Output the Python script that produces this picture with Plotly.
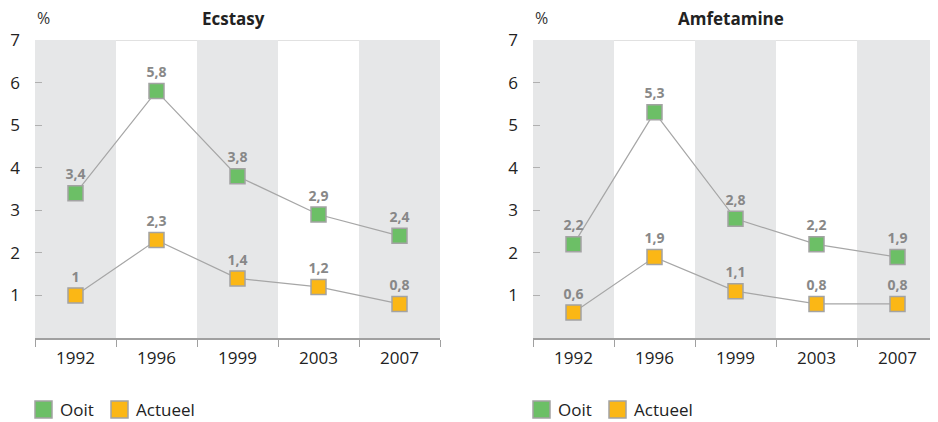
import plotly.graph_objects as go

years = ["1992", "1996", "1999", "2003", "2007"]
ecstasy_ooit = [3.4, 5.8, 3.8, 2.9, 2.4]
ecstasy_actueel = [1.0, 2.3, 1.4, 1.2, 0.8]
amfet_ooit = [2.2, 5.3, 2.8, 2.2, 1.9]
amfet_actueel = [0.6, 1.9, 1.1, 0.8, 0.8]
titles = ["Ecstasy", "Amfetamine"]
series_names = ["Ooit", "Actueel"]
y_ticks = [1, 2, 3, 4, 5, 6, 7]

GREEN = "#6cbf66"
ORANGE = "#fbb715"
BORDER = "#a3a3a3"
LINE = "#a6a6a6"
BAND = "#e6e7e8"
LABEL = "#888888"
FONT = "Open Sans"

def fmt(v):
    return ("%g" % v).replace(".", ",")

# page has an 8px body margin; size the figure to fit the 938x422 window
OFF = 8
W, H = 938 - OFF, 422 - OFF
T, B = 40 - OFF, 84
PH = H - T - B
domains = [[(35 - OFF) / W, (440 - OFF) / W], [(533 - OFF) / W, (938 - OFF) / W]]
top_text_y = (H - (18 - OFF) - B) / PH

def py(page_y):
    return (H - B - (page_y - OFF)) / PH

def px(page_x):
    return (page_x - OFF) / W

fig = go.Figure()
panels = [(ecstasy_ooit, ecstasy_actueel), (amfet_ooit, amfet_actueel)]
for p, (ooit, act) in enumerate(panels):
    xa = "x" if p == 0 else "x2"
    ya = "y" if p == 0 else "y2"
    for vals, col, nm in [(ooit, GREEN, series_names[0]), (act, ORANGE, series_names[1])]:
        fig.add_trace(go.Scatter(
            x=years, y=vals, mode="lines+markers+text", name=nm,
            text=[fmt(v) for v in vals], textposition="top center",
            textfont=dict(family=FONT, size=14, color=LABEL, weight="bold"),
            line=dict(color=LINE, width=1.2),
            marker=dict(symbol="square", size=15, color=col, line=dict(color=BORDER, width=1.5)),
            xaxis=xa, yaxis=ya, showlegend=False, cliponaxis=False,
        ))
    for i in (0, 2, 4):
        fig.add_shape(type="rect", xref=xa, yref=ya, x0=i - 0.5, x1=i + 0.5, y0=0, y1=7,
                      fillcolor=BAND, line_width=0, layer="below")
    fig.add_shape(type="line", xref=f"{xa} domain", yref=ya, x0=0, x1=1, y0=7, y1=7,
                  line=dict(color="#c4c4c4", width=1.2), layer="below")
    fig.add_annotation(text="%", xref=f"{xa} domain", yref="paper", x=0.0, y=top_text_y,
                       xanchor="left", yanchor="middle", showarrow=False,
                       font=dict(family=FONT, size=16, color="#333333"))
    fig.add_annotation(text="<b>" + titles[p] + "</b>", xref=f"{xa} domain", yref="paper",
                       x=0.49, y=top_text_y, xanchor="center", yanchor="middle", showarrow=False,
                       font=dict(family=FONT, size=17, color="#222222"))
    # manual legend
    base = 35 + p * 498
    for k, (col, nm) in enumerate([(GREEN, series_names[0]), (ORANGE, series_names[1])]):
        sx = base + k * 76
        fig.add_shape(type="rect", xref="paper", yref="paper",
                      x0=px(sx), x1=px(sx + 17), y0=py(401), y1=py(418),
                      fillcolor=col, line=dict(color=BORDER, width=1.5))
        fig.add_annotation(text=nm, xref="paper", yref="paper", x=px(sx + 24), y=py(409),
                           xanchor="left", yanchor="middle", showarrow=False, borderpad=0,
                           font=dict(family=FONT, size=17, color="#222222"))

axis_common_x = dict(type="category", range=[-0.5, 4.5], showgrid=False, showline=True,
                     linecolor="#a0a0a0", linewidth=1.5, ticks="outside", tickson="boundaries",
                     ticklen=7, tickcolor="#a0a0a0", tickwidth=1.2, automargin=False,
                     ticklabelstandoff=4,
                     tickfont=dict(family=FONT, size=17, color="#222222"), fixedrange=True)
axis_common_y = dict(range=[0, 7], tickvals=y_ticks, showgrid=False, zeroline=False, showline=False,
                     ticks="inside", ticklen=7, tickcolor="#b0b0b0", tickwidth=1,
                     ticklabelstandoff=14, automargin=False,
                     tickfont=dict(family=FONT, size=17, color="#222222"), fixedrange=True)

fig.update_layout(
    width=W, height=H, margin=dict(l=0, r=0, t=T, b=B, autoexpand=False),
    paper_bgcolor="white", plot_bgcolor="white",
    xaxis=dict(domain=domains[0], anchor="y", **axis_common_x),
    yaxis=dict(domain=[0, 1], anchor="x", **axis_common_y),
    xaxis2=dict(domain=domains[1], anchor="y2", **axis_common_x),
    yaxis2=dict(domain=[0, 1], anchor="x2", **axis_common_y),
    showlegend=False,
)

fig.write_html("out.html")
